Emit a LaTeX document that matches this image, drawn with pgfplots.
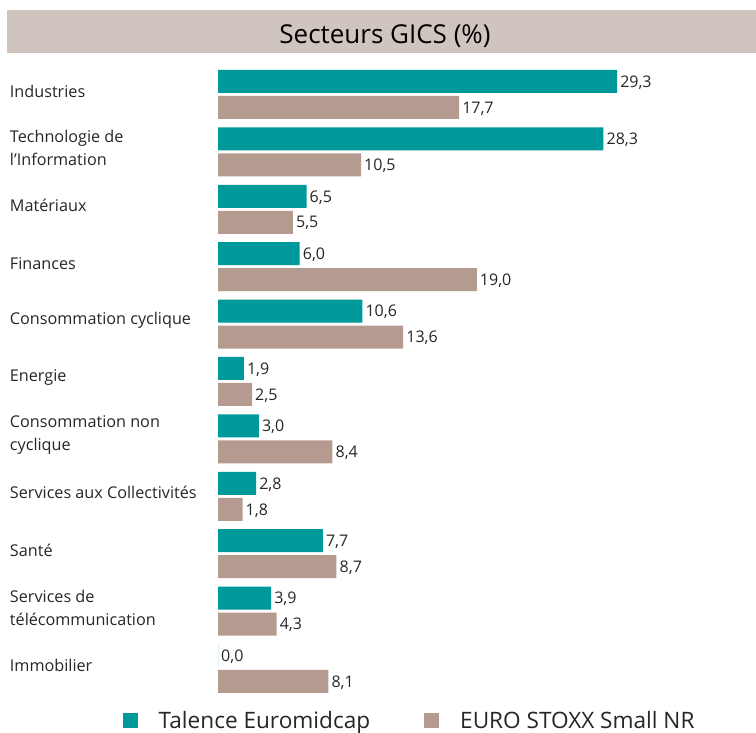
\documentclass[border=0pt]{standalone}
\usepackage{fontspec}
\setmainfont{Open Sans}
\usepackage{pgfplots}
\pgfplotsset{compat=1.18}
\definecolor{teal1}{HTML}{009999}
\definecolor{taupe}{HTML}{B59A90}
\definecolor{band}{HTML}{D0C4BE}
\definecolor{txt}{HTML}{262626}
\begin{document}
\begin{tikzpicture}
\useasboundingbox (0,0) rectangle (756bp,733bp);
\fill[band] (7bp,680bp) rectangle (756bp,723bp);
\node[font=\fontsize{26bp}{30bp}\selectfont, text=black] at (385bp,697bp) {Secteurs GICS (\%)};
\begin{axis}[
  at={(218bp,35.8bp)}, anchor=south west,
  scale only axis, width=408.6bp, height=631.4bp,
  xmin=0, xmax=30, ymin=-0.5, ymax=10.5,
  xbar, bar width=23bp,
  axis line style={draw=none},
  tick style={draw=none},
  xtick=\empty,
  ytick={0,...,10},
  yticklabels={Immobilier,{Services de\\télécommunication},Santé,Services aux Collectivités,{Consommation non\\cyclique},Energie,Consommation cyclique,Finances,Matériaux,{Technologie de\\l'Information},Industries},
  yticklabel style={anchor=west, align=left, xshift=-204bp, yshift=3.5bp, inner sep=0pt,
    font=\fontsize{16.2bp}{23bp}\selectfont, text=txt},
  clip=false,
  nodes near coords={\pgfmathprintnumber[fixed, fixed zerofill, precision=1, use comma, assume math mode=true]{\pgfplotspointmeta}},
  every node near coord/.append style={anchor=west, xshift=1bp, yshift=-1bp, inner sep=2bp,
    font=\fontsize{16bp}{18bp}\selectfont, text=txt},
  legend columns=2,
  legend style={draw=none, fill=none, at={(0.469,-0.037)}, anchor=center,
    font=\fontsize{22.6bp}{26bp}\selectfont, text=txt, inner sep=0pt,
    /tikz/every odd column/.append style={column sep=19bp},
    /tikz/every even column/.append style={column sep=52bp}},
]
\addplot[fill=teal1, draw=none, bar shift=13bp,
  legend image code/.code={\fill[teal1] (0bp,-7.5bp) rectangle (15bp,7.5bp);}]
  coordinates {(0.0,0) (3.9,1) (7.7,2) (2.8,3) (3.0,4) (1.9,5) (10.6,6) (6.0,7) (6.5,8) (28.3,9) (29.3,10)};
\addplot[fill=taupe, draw=none, bar shift=-13bp,
  legend image code/.code={\fill[taupe] (0bp,-7.5bp) rectangle (15bp,7.5bp);}]
  coordinates {(8.1,0) (4.3,1) (8.7,2) (1.8,3) (8.4,4) (2.5,5) (13.6,6) (19.0,7) (5.5,8) (10.5,9) (17.7,10)};
\legend{Talence Euromidcap, EURO STOXX Small NR}
\end{axis}
\end{tikzpicture}
\end{document}
